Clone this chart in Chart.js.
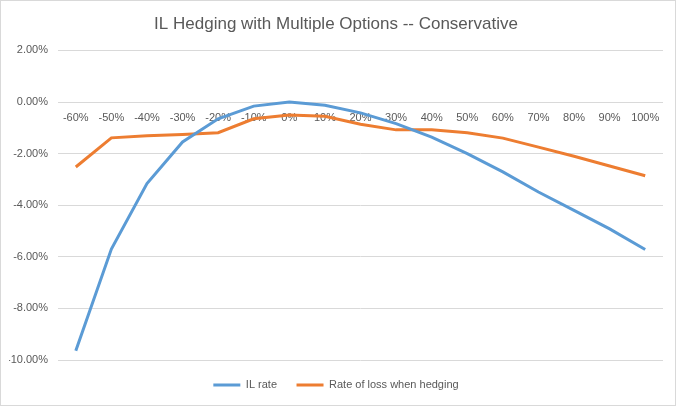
<!DOCTYPE html>
<html>
<head>
<meta charset="utf-8">
<script src="https://cdn.jsdelivr.net/npm/chart.js@4.4.0/dist/chart.umd.min.js"></script>
<style>
  body { margin: 0; background: #fff; }
  #wrap { width: 676px; height: 406px; box-sizing: border-box; border: 1px solid #d9d9d9; position: relative; }
</style>
</head>
<body>
<div id="wrap"><canvas id="ilChart"></canvas></div>
<script>
// Datos del gráfico (valores en %)
const priceChange = ['-60%', '-50%', '-40%', '-30%', '-20%', '-10%', '0%', '10%', '20%', '30%', '40%', '50%', '60%', '70%', '80%', '90%', '100%'];
const ilRate = [-9.64, -5.70, -3.16, -1.55, -0.65, -0.16, 0.00, -0.13, -0.42, -0.84, -1.36, -2.00, -2.71, -3.49, -4.20, -4.92, -5.72];
const hedgeLoss = [-2.52, -1.39, -1.31, -1.26, -1.19, -0.65, -0.50, -0.55, -0.86, -1.08, -1.08, -1.19, -1.40, -1.75, -2.10, -2.48, -2.86];
const yMin = -10;
const yMax = 2;
const yStep = 2;

const textColor = '#595959';
const gridColor = '#d9d9d9';
const fontFamily = "'Liberation Sans', Arial, sans-serif";

function initializeChart() {
    const ctx = document.getElementById('ilChart').getContext('2d');
    new Chart(ctx, {
        type: 'line',
        data: {
            labels: priceChange,
            datasets: [{
                label: 'IL rate',
                data: ilRate,
                borderColor: '#5b9bd5',
                backgroundColor: '#5b9bd5',
                borderWidth: 3,
                pointRadius: 0,
                tension: 0
            }, {
                label: 'Rate of loss when hedging',
                data: hedgeLoss,
                borderColor: '#ed7d31',
                backgroundColor: '#ed7d31',
                borderWidth: 3,
                pointRadius: 0,
                tension: 0
            }]
        },
        options: {
            responsive: true,
            maintainAspectRatio: false,
            animation: false,
            layout: { padding: { left: 8, right: 12, top: 0, bottom: 4.5 } },
            plugins: {
                title: {
                    display: true,
                    text: 'IL Hedging with Multiple Options -- Conservative',
                    color: textColor,
                    font: { family: fontFamily, size: 17, weight: 'normal' },
                    padding: { top: 13, bottom: 16 }
                },
                legend: {
                    position: 'bottom',
                    labels: {
                        color: textColor,
                        font: { family: fontFamily, size: 11 },
                        usePointStyle: true,
                        pointStyle: 'line',
                        pointStyleWidth: 27,
                        padding: 19.5
                    }
                },
                tooltip: { enabled: false }
            },
            scales: {
                x: {
                    position: { y: 0 },
                    offset: true,
                    grid: { display: false, drawTicks: false, offset: true },
                    border: { display: false },
                    ticks: {
                        color: textColor,
                        font: { family: fontFamily, size: 11 },
                        padding: 9,
                        maxRotation: 0,
                        autoSkip: false
                    }
                },
                y: {
                    min: yMin,
                    max: yMax,
                    grid: { color: gridColor, drawTicks: false },
                    border: { display: false },
                    ticks: {
                        stepSize: yStep,
                        color: textColor,
                        font: { family: fontFamily, size: 11 },
                        padding: 10,
                        callback: (v) => v.toFixed(2) + '%'
                    },
                    afterFit: (scale) => { scale.width = 49; }
                }
            }
        }
    });
}

document.addEventListener('DOMContentLoaded', initializeChart);
</script>
</body>
</html>
